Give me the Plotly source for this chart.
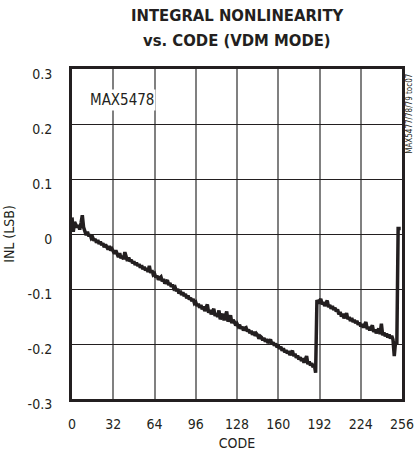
import plotly.graph_objects as go

codes = list(range(256))
inl = [
    0.030, 0.004, 0.022, 0.018, 0.012, 0.016, 0.008, 0.020, 0.034, 0.012, 0.002, -0.002, 0.004, -0.004, -0.001, -0.008,
    -0.006, -0.012, -0.009, -0.016, -0.011, -0.018, -0.014, -0.020, -0.017, -0.024, -0.019, -0.023, -0.028, -0.022, -0.030, -0.027,
    -0.031, -0.036, -0.030, -0.038, -0.042, -0.035, -0.044, -0.040, -0.046, -0.033, -0.045, -0.049, -0.043, -0.050, -0.047, -0.053,
    -0.050, -0.056, -0.052, -0.058, -0.055, -0.061, -0.057, -0.064, -0.060, -0.066, -0.062, -0.069, -0.058, -0.071, -0.066, -0.074,
    -0.072, -0.079, -0.076, -0.083, -0.080, -0.078, -0.086, -0.082, -0.090, -0.087, -0.084, -0.093, -0.089, -0.096, -0.092, -0.099,
    -0.097, -0.104, -0.100, -0.108, -0.103, -0.111, -0.106, -0.113, -0.109, -0.117, -0.112, -0.119, -0.116, -0.122, -0.118, -0.126,
    -0.124, -0.131, -0.127, -0.134, -0.129, -0.137, -0.132, -0.140, -0.135, -0.128, -0.143, -0.138, -0.146, -0.141, -0.136, -0.149,
    -0.144, -0.151, -0.139, -0.155, -0.148, -0.145, -0.157, -0.150, -0.141, -0.159, -0.153, -0.148, -0.162, -0.156, -0.160, -0.166,
    -0.163, -0.168, -0.165, -0.172, -0.169, -0.175, -0.171, -0.170, -0.177, -0.174, -0.180, -0.176, -0.183, -0.178, -0.185, -0.181,
    -0.184, -0.190, -0.186, -0.188, -0.193, -0.189, -0.196, -0.191, -0.198, -0.195, -0.192, -0.200, -0.197, -0.203, -0.199, -0.206,
    -0.203, -0.209, -0.205, -0.212, -0.208, -0.215, -0.211, -0.217, -0.213, -0.220, -0.216, -0.212, -0.222, -0.218, -0.225, -0.221,
    -0.228, -0.224, -0.231, -0.226, -0.234, -0.229, -0.222, -0.237, -0.232, -0.239, -0.235, -0.242, -0.238, -0.252,
    -0.120, -0.126, -0.122, -0.118, -0.128, -0.124, -0.131, -0.127, -0.121, -0.133, -0.129, -0.136, -0.131, -0.138, -0.134, -0.141,
    -0.137, -0.146, -0.142, -0.150, -0.145, -0.153, -0.148, -0.144, -0.155, -0.151, -0.158, -0.153, -0.160, -0.156, -0.162, -0.158,
    -0.165, -0.161, -0.168, -0.164, -0.170, -0.166, -0.160, -0.173, -0.169, -0.175, -0.171, -0.166, -0.178, -0.174, -0.180, -0.176,
    -0.172, -0.182, -0.163, -0.184, -0.179, -0.186, -0.181, -0.188, -0.183, -0.190, -0.185, -0.192, -0.222, -0.196, -0.200,
    0.010, 0.010, 0.010,
]

x_ticks = [0, 32, 64, 96, 128, 160, 192, 224, 256]
y_ticks = [-0.3, -0.2, -0.1, 0, 0.1, 0.2, 0.3]
y_labels = ["-0.3", "-0.2", "-0.1", "0", "0.1", "0.2", "0.3"]

narrow = "DejaVu Sans Condensed, Roboto, sans-serif"
ink = "#231f20"

fig = go.Figure()
fig.add_trace(go.Scatter(
    x=codes, y=inl, mode="lines",
    line=dict(color=ink, width=3.5),
    showlegend=False, hoverinfo="skip",
))

fig.update_layout(
    width=414, height=459,
    margin=dict(l=72, r=12, t=69, b=60, autoexpand=False),
    paper_bgcolor="white", plot_bgcolor="white",
    font=dict(family=narrow, size=14, color=ink),
)

fig.update_xaxes(
    range=[0, 256], tickvals=x_ticks, ticktext=[str(v) for v in x_ticks],
    showgrid=True, gridcolor="#808080", gridwidth=2,
    showline=True, linecolor=ink, linewidth=3, mirror=True,
    ticks="", ticklabelstandoff=10, zeroline=False, automargin=False,
    ticklabeloverflow="allow",
    title=dict(text="CODE", standoff=8, font=dict(size=14)),
    tickfont=dict(size=14),
)
fig.update_yaxes(
    range=[-0.3, 0.3], tickvals=y_ticks, ticktext=y_labels,
    showgrid=True, gridcolor=ink, gridwidth=1,
    showline=True, linecolor=ink, linewidth=3, mirror=True,
    ticks="", ticklabelstandoff=14, ticklabelshift=5, zeroline=False, automargin=False,
    ticklabeloverflow="allow",
    title=dict(text="INL (LSB)", standoff=10, font=dict(size=14)),
    tickfont=dict(size=14),
)

title_font = dict(family="DejaVu Sans Condensed, sans-serif", size=16.5, color=ink)
fig.add_annotation(
    x=0.5, y=(399 - 15) / 330, xref="paper", yref="paper",
    text="<b>INTEGRAL NONLINEARITY</b>", showarrow=False,
    xanchor="center", yanchor="middle", font=title_font,
)
fig.add_annotation(
    x=0.5, y=(399 - 40) / 330, xref="paper", yref="paper",
    text="<b>vs. CODE (VDM MODE)</b>", showarrow=False,
    xanchor="center", yanchor="middle", font=title_font,
)

fig.add_annotation(
    x=39, y=0.244, xref="x", yref="y", text="MAX5478", showarrow=False,
    font=dict(family=narrow, size=15, color=ink),
    bgcolor="white", xanchor="center", yanchor="middle",
)
fig.add_annotation(
    x=1.0, y=0.99, xref="paper", yref="paper", text="MAX5477/78/79 toc07",
    showarrow=False, textangle=-90, xanchor="left", yanchor="top", xshift=1,
    font=dict(family=narrow, size=8, color=ink),
)

fig.write_html("out.html", config={"displayModeBar": False},
               post_script="document.body.style.margin='0';")
